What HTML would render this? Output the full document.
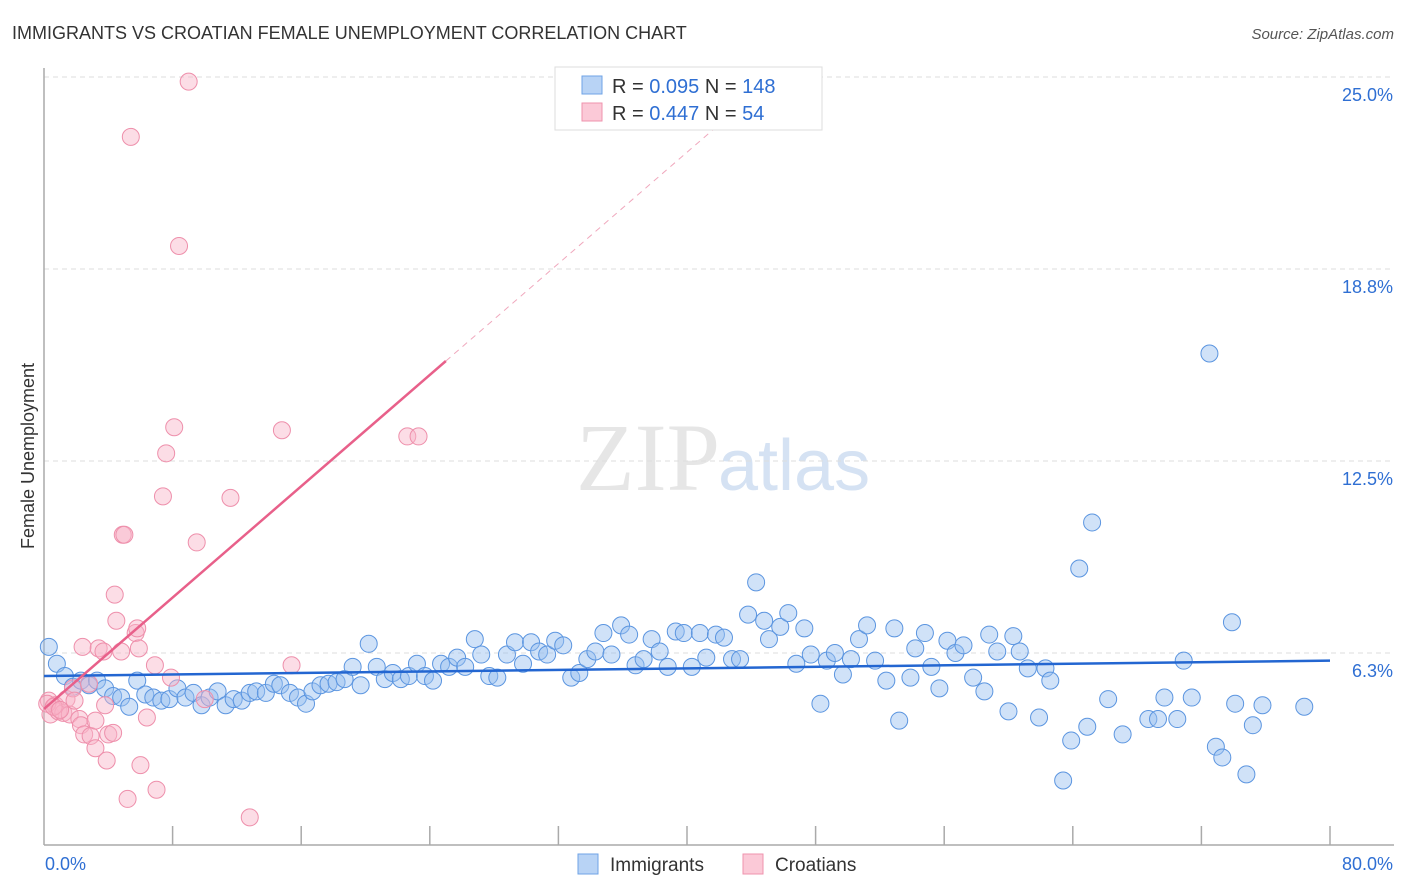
<!DOCTYPE html>
<html><head><meta charset="utf-8"><style>
body{margin:0;background:#fff;font-family:"Liberation Sans",sans-serif}
svg{display:block}
</style></head><body>
<svg id="chart" width="1406" height="892">
<text x="12" y="39" font-size="18" fill="#333">IMMIGRANTS VS CROATIAN FEMALE UNEMPLOYMENT CORRELATION CHART</text>
<text x="1394" y="39" font-size="15" fill="#555" font-style="italic" text-anchor="end">Source: ZipAtlas.com</text>
<text x="720" y="490" font-size="96" fill="#e6e6e6" text-anchor="end" font-family="Liberation Serif">ZIP</text>
<text x="718" y="490" font-size="72" fill="#d5e2f3">atlas</text>
<g id="grid"></g>
<g id="axes"></g>
<g id="pts"></g>
<g id="trend"></g>
<text transform="translate(34,456) rotate(-90)" font-size="18" fill="#333" text-anchor="middle">Female Unemployment</text>
<g>
<rect x="555" y="67" width="267" height="63" fill="#fff" stroke="#ddd"/>
<rect x="582" y="76" width="20" height="18" fill="#b8d3f5" stroke="#6fa3e6"/>
<rect x="582" y="103" width="20" height="18" fill="#fbc9d7" stroke="#ef93ae"/>
<text x="612" y="93" font-size="20" fill="#333">R = <tspan fill="#2f6fd3">0.095</tspan>   N = <tspan fill="#2f6fd3">148</tspan></text>
<text x="612" y="120" font-size="20" fill="#333">R = <tspan fill="#2f6fd3">0.447</tspan>   N =  <tspan fill="#2f6fd3"> 54</tspan></text>
</g>
<g>
<rect x="578" y="854" width="20" height="20" fill="#b8d3f5" stroke="#6fa3e6"/>
<text x="610" y="871" font-size="19" fill="#333">Immigrants</text>
<rect x="743" y="854" width="20" height="20" fill="#fbc9d7" stroke="#ef93ae"/>
<text x="775" y="871" font-size="19" fill="#333">Croatians</text>
</g>
</svg>
<script>
const yTicks=[6.25,12.5,18.75,25];
const yTickLabels=["6.3%","12.5%","18.8%","25.0%"];
const xTicks=[0,8,16,24,32,40,48,56,64,72,80];
const blueX=[0.3,0.8,1.3,1.8,2.3,2.8,3.3,3.8,4.3,4.8,5.3,5.8,6.3,6.8,7.3,7.8,8.3,8.8,9.3,9.8,10.3,10.8,11.3,11.8,12.3,12.8,13.2,13.8,14.3,14.7,15.3,15.8,16.3,16.7,17.2,17.7,18.2,18.7,19.2,19.7,20.2,20.7,21.2,21.7,22.2,22.7,23.2,23.7,24.2,24.7,25.2,25.7,26.2,26.8,27.2,27.7,28.2,28.8,29.3,29.8,30.3,30.8,31.3,31.8,32.3,32.8,33.3,33.8,34.3,34.8,35.3,35.9,36.4,36.8,37.3,37.8,38.3,38.8,39.3,39.8,40.3,40.8,41.2,41.8,42.3,42.8,43.3,43.8,44.3,44.8,45.1,45.8,46.3,46.8,47.3,47.7,48.3,48.7,49.2,49.7,50.2,50.7,51.2,51.7,52.4,52.9,53.2,53.9,54.2,54.8,55.2,55.7,56.2,56.7,57.2,57.8,58.5,58.8,59.3,60.0,60.3,60.7,61.2,61.9,62.3,62.6,63.4,63.9,64.4,64.9,65.2,66.2,67.1,68.7,69.3,69.7,70.5,70.9,71.4,72.5,72.9,73.3,73.9,74.1,74.8,75.2,75.8,78.4];
const blueY=[6.45,5.9,5.5,5.15,5.35,5.2,5.35,5.1,4.85,4.8,4.5,5.35,4.9,4.8,4.7,4.75,5.1,4.8,4.95,4.55,4.8,5.0,4.55,4.75,4.7,4.95,5.0,4.95,5.25,5.2,4.95,4.8,4.6,5.0,5.2,5.25,5.3,5.4,5.8,5.2,6.55,5.8,5.4,5.6,5.4,5.5,5.9,5.5,5.35,5.9,5.8,6.1,5.8,6.7,6.2,5.5,5.45,6.2,6.6,5.9,6.6,6.3,6.2,6.65,6.5,5.45,5.6,6.05,6.3,6.9,6.2,7.15,6.85,5.85,6.05,6.7,6.3,5.8,6.95,6.9,5.8,6.9,6.1,6.85,6.75,6.05,6.05,7.5,8.55,7.3,6.7,7.1,7.55,5.9,7.05,6.2,4.6,6.0,6.25,5.55,6.05,6.7,7.15,6.0,5.35,7.05,4.05,5.45,6.4,6.9,5.8,5.1,6.65,6.25,6.5,5.45,5.0,6.85,6.3,4.35,6.8,6.3,5.75,4.15,5.75,5.35,2.1,3.4,9.0,3.85,10.5,4.75,3.6,4.1,4.1,4.8,4.1,6.0,4.8,16.0,3.2,2.85,7.25,4.6,2.3,3.9,4.55,4.5];
const pinkX=[0.3,0.4,0.7,0.9,1.2,1.4,1.6,1.8,1.9,2.2,2.3,2.4,2.5,2.8,2.9,3.2,3.2,3.4,3.7,3.8,3.9,4.0,4.3,4.4,4.5,4.8,4.9,5.2,5.4,5.7,5.8,5.9,6.0,6.4,6.9,7.0,7.4,7.6,7.9,8.1,8.4,9.0,9.5,10.0,11.6,12.8,14.8,15.4,22.6,23.3,0.2,0.6,1.0,5.0];
const pinkY=[4.7,4.25,4.55,4.35,4.3,4.75,4.25,5.1,4.7,4.1,3.9,6.45,3.6,5.25,3.55,4.05,3.15,6.4,6.3,4.55,2.75,3.6,3.65,8.15,7.3,6.3,10.1,1.5,23.05,6.9,7.05,6.4,2.6,4.15,5.85,1.8,11.35,12.75,5.45,13.6,19.5,24.85,9.85,4.75,11.3,0.9,13.5,5.85,13.3,13.3,4.6,4.5,4.4,10.1];
const blueTrend=[5.5,0.00625];   // intercept, slope
const pinkTrend=[4.43,0.453];
const pinkSolidEnd=25.0, pinkDashEnd=43.3;
const X=v=>44+v/80*1286, Y=v=>845-v*30.72;
const NS="http://www.w3.org/2000/svg";
function mk(tag,attrs,parent){const e=document.createElementNS(NS,tag);for(const k in attrs)e.setAttribute(k,attrs[k]);document.getElementById(parent).appendChild(e);return e;}
yTicks.forEach((t,i)=>{
 const l=mk('line',{x1:44,x2:1394,y1:Y(t),y2:Y(t),stroke:'#ddd','stroke-dasharray':'5,4'},'grid');
 
 
 const tx=mk('text',{x:1393,y:Y(t)+24,'font-size':18,fill:'#2f6fd3','text-anchor':'end'},'grid');
 tx.textContent=yTickLabels[i];
 
 
});
const ax=mk('line',{x1:44,x2:44,y1:68,y2:845,stroke:'#aaa','stroke-width':1.5},'axes');


const bx=mk('line',{x1:44,x2:1394,y1:845,y2:845,stroke:'#aaa','stroke-width':1.5},'axes');


xTicks.slice(1).forEach(t=>{
 const l=mk('line',{x1:X(t),x2:X(t),y1:826,y2:845,stroke:'#aaa','stroke-width':1.5},'axes');
 
 
});
const x0=mk('text',{x:45,y:870,'font-size':18,fill:'#2f6fd3'},'axes');x0.textContent='0.0%';


const x1=mk('text',{x:1393,y:870,'font-size':18,fill:'#2f6fd3','text-anchor':'end'},'axes');x1.textContent='80.0%';


blueX.forEach((v,i)=>{
 const c=mk('circle',{cx:X(v),cy:Y(blueY[i]),r:8.5,fill:'rgba(150,190,240,0.45)',stroke:'#5b95e0','stroke-width':1},'pts');
 
 
});
pinkX.forEach((v,i)=>{
 const c=mk('circle',{cx:X(v),cy:Y(pinkY[i]),r:8.5,fill:'rgba(248,180,200,0.45)',stroke:'#ee8fab','stroke-width':1},'pts');
 
 
});
const bt=mk('line',{x1:X(0),y1:Y(blueTrend[0]),x2:X(80),y2:Y(blueTrend[0]+80*blueTrend[1]),stroke:'#2366d1','stroke-width':2.5},'trend');


const pt=mk('line',{x1:X(0),y1:Y(pinkTrend[0]),x2:X(pinkSolidEnd),y2:Y(pinkTrend[0]+pinkSolidEnd*pinkTrend[1]),stroke:'#e8608a','stroke-width':2.5},'trend');


const pd=mk('line',{x1:X(pinkSolidEnd),y1:Y(pinkTrend[0]+pinkSolidEnd*pinkTrend[1]),x2:X(pinkDashEnd),y2:Y(pinkTrend[0]+pinkDashEnd*pinkTrend[1]),stroke:'#f0a8bd','stroke-width':1,'stroke-dasharray':'6,5'},'trend');


</script>
</body></html>
